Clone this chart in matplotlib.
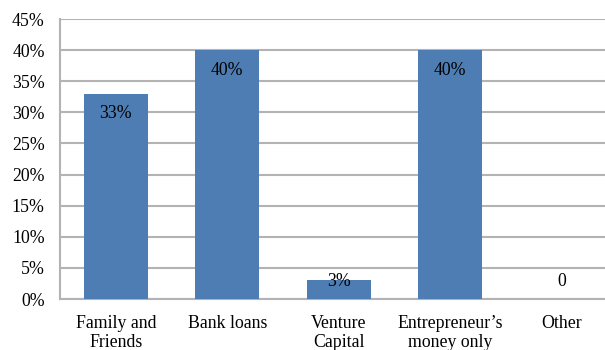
import matplotlib
matplotlib.use("Agg")
import matplotlib.pyplot as plt

categories = ["Family and\nFriends", "Bank loans", "Venture\nCapital", "Entrepreneur\u2019s\nmoney only", "Other"]
values = [33, 40, 3, 40, 0]
labels = ["33%", "40%", "3%", "40%", "0"]
yticks = [0, 5, 10, 15, 20, 25, 30, 35, 40, 45]

plt.rcParams['font.family'] = ['Liberation Serif', 'DejaVu Serif']
FS = 12.8

fig = plt.figure(figsize=(6.05, 3.5), dpi=100)
ax = fig.add_axes([60/605, 1-299/350, 557.5/605, 280/350])

x = list(range(len(categories)))
ax.bar(x, values, width=0.57, color='#4e7db3', zorder=3)
ax.set_xlim(-0.5, len(categories) - 0.5)
ax.set_ylim(0, 45)
ax.set_yticks(yticks)
ax.set_yticklabels([f"{t}%" for t in yticks], fontsize=FS)
ax.set_xticks(x)
ax.set_xticklabels(categories, fontsize=FS, linespacing=1.15, va='top')
ax.tick_params(axis='x', length=0, pad=11.5)
ax.tick_params(axis='y', length=0, pad=11)
ax.grid(axis='y', color='#b3b3b3', linewidth=1.5, zorder=0)
for s in ['top', 'right']:
    ax.spines[s].set_visible(False)
ax.spines['left'].set_color('#b3b3b3')
ax.spines['left'].set_linewidth(1.5)
ax.spines['bottom'].set_color('#b3b3b3')
ax.spines['bottom'].set_linewidth(1.5)

for xi, v, lab in zip(x, values, labels):
    if v > 10:
        ax.annotate(lab, (xi, v), xytext=(0, -14.5), textcoords='offset points',
                    ha='center', va='center', fontsize=FS, zorder=4)
    else:
        ax.text(xi, 2.8, lab, ha='center', va='center', fontsize=FS, zorder=4)

fig.savefig("out.png", dpi=100)
